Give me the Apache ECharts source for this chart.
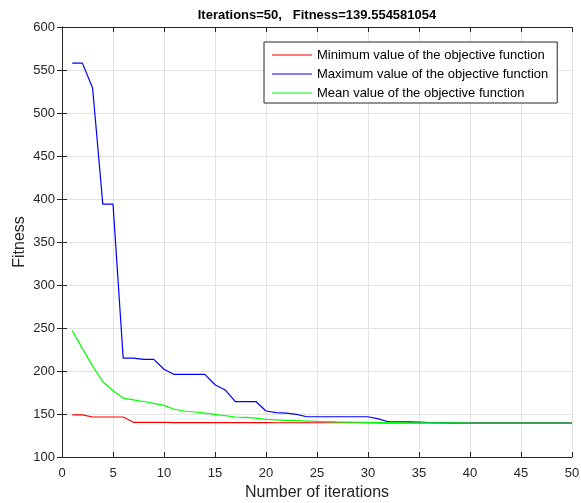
<!DOCTYPE html>
<html>
<head>
<meta charset="utf-8">
<script src="https://cdn.jsdelivr.net/npm/echarts@6/dist/echarts.min.js"></script>
<style>
  html, body { margin: 0; padding: 0; background: #fff; }
  #chart { width: 581px; height: 503px; }
</style>
</head>
<body>
<div id="chart"></div>
<script>
// iteration numbers 1..50
const iterations = [
  1, 2, 3, 4, 5, 6, 7, 8, 9, 10,
  11, 12, 13, 14, 15, 16, 17, 18, 19, 20,
  21, 22, 23, 24, 25, 26, 27, 28, 29, 30,
  31, 32, 33, 34, 35, 36, 37, 38, 39, 40,
  41, 42, 43, 44, 45, 46, 47, 48, 49, 50
];

// minimum value (red)
const minValues = [
  149, 149, 146.5, 146.5, 146.5, 146.5, 140.3, 140.3, 140.3, 140.3,
  140, 140, 140, 140, 140, 140, 140, 140, 140, 140,
  139.8, 139.8, 139.8, 139.8, 139.8, 139.8, 139.8, 139.8, 139.8, 139.8,
  139.6, 139.6, 139.6, 139.6, 139.6, 139.55, 139.55, 139.55, 139.55, 139.55,
  139.55, 139.55, 139.55, 139.55, 139.55, 139.55, 139.55, 139.55, 139.55, 139.55
];

// maximum value (blue)
const maxValues = [
  558, 558, 529, 394, 394, 215, 215, 213.5, 213.5, 202,
  196, 196, 196, 196, 184, 178, 164.5, 164.5, 164.5, 153.5,
  151.5, 151, 149.6, 146.8, 146.8, 146.8, 146.8, 146.8, 146.8, 146.8,
  144.4, 141, 141, 140.8, 140.5, 140.1, 139.9, 139.7, 139.6, 139.55,
  139.55, 139.55, 139.55, 139.55, 139.55, 139.55, 139.55, 139.55, 139.55, 139.55
];

// mean value (green)
const meanValues = [
  247, 226, 206, 187.5, 177, 168.5, 166.5, 164.5, 162.3, 160,
  155.5, 153.5, 152.3, 151, 149.6, 148, 146.5, 146, 145.2, 143.8,
  143.2, 142.6, 142.2, 141.8, 141.4, 141.1, 140.8, 140.6, 140.4, 140.2,
  140.1, 140, 139.9, 139.8, 139.75, 139.7, 139.65, 139.6, 139.58, 139.56,
  139.55, 139.55, 139.55, 139.55, 139.55, 139.55, 139.55, 139.55, 139.55, 139.55
];

const seriesNames = [
  'Minimum value of the objective function',
  'Maximum value of the objective function',
  'Mean value of the objective function'
];
const seriesColors = ['#ff0000', '#0000ff', '#00ff00'];

const xTicks = [0, 5, 10, 15, 20, 25, 30, 35, 40, 45, 50];
const yTicks = [100, 150, 200, 250, 300, 350, 400, 450, 500, 550, 600];

const pair = arr => arr.map((v, i) => [iterations[i], v]);

const font = 'Liberation Sans, Arial, sans-serif';
const axisColor = '#262626';

const mCharts = echarts.init(document.getElementById('chart'), null, { renderer: 'canvas' });

const option = {
  animation: false,
  backgroundColor: '#fff',
  title: {
    text: 'Iterations=50,   Fitness=139.554581054',
    left: 312,
    top: 4,
    textAlign: 'center',
    textStyle: { fontFamily: font, fontSize: 13, fontWeight: 'bold', color: '#000' }
  },
  grid: { left: 62, right: 9, top: 27, bottom: 46, containLabel: false, outerBoundsMode: 'none' },
  legend: {
    orient: 'vertical',
    left: 264,
    top: 42,
    padding: [6, 9, 3, 8],
    itemGap: 5,
    itemWidth: 40,
    itemHeight: 1,
    icon: 'rect',
    backgroundColor: '#fff',
    borderColor: axisColor,
    borderWidth: 1,
    textStyle: { fontFamily: font, fontSize: 13, lineHeight: 14, color: '#000' },
    data: seriesNames
  },
  xAxis: [
    {
      type: 'value',
      min: xTicks[0],
      max: xTicks[xTicks.length - 1],
      interval: 5,
      name: 'Number of iterations',
      nameLocation: 'middle',
      nameGap: 28,
      nameMoveOverlap: false,
      nameTextStyle: { fontFamily: font, fontSize: 16, color: axisColor },
      axisLine: { lineStyle: { color: axisColor, width: 1 } },
      axisTick: { inside: true, length: 5, lineStyle: { color: axisColor } },
      axisLabel: { fontFamily: font, fontSize: 13, color: axisColor, margin: 10 },
      splitLine: { show: true, lineStyle: { color: '#e3e3e3', width: 1 } }
    },
    {
      type: 'value',
      position: 'top',
      min: xTicks[0],
      max: xTicks[xTicks.length - 1],
      interval: 5,
      axisLine: { show: true, lineStyle: { color: axisColor, width: 1 } },
      axisTick: { show: true, inside: true, length: 5, lineStyle: { color: axisColor } },
      axisLabel: { show: false },
      splitLine: { show: false }
    }
  ],
  yAxis: [
    {
      type: 'value',
      min: yTicks[0],
      max: yTicks[yTicks.length - 1],
      interval: 50,
      name: 'Fitness',
      nameLocation: 'middle',
      nameGap: 34,
      nameMoveOverlap: false,
      nameTextStyle: { fontFamily: font, fontSize: 16, color: axisColor },
      axisLine: { show: true, lineStyle: { color: axisColor, width: 1 } },
      axisTick: { show: true, inside: true, length: 5, lineStyle: { color: axisColor } },
      axisLabel: { fontFamily: font, fontSize: 13, color: axisColor, margin: 7 },
      splitLine: { show: true, lineStyle: { color: '#e3e3e3', width: 1 } }
    },
    {
      type: 'value',
      position: 'right',
      min: yTicks[0],
      max: yTicks[yTicks.length - 1],
      interval: 50,
      axisLine: { show: true, lineStyle: { color: axisColor, width: 1 } },
      axisTick: { show: true, inside: true, length: 5, lineStyle: { color: axisColor } },
      axisLabel: { show: false },
      splitLine: { show: false }
    }
  ],
  series: [
    {
      name: seriesNames[0],
      type: 'line',
      data: pair(minValues),
      symbol: 'none',
      lineStyle: { color: seriesColors[0], width: 1.2 },
      itemStyle: { color: seriesColors[0] }
    },
    {
      name: seriesNames[1],
      type: 'line',
      data: pair(maxValues),
      symbol: 'none',
      lineStyle: { color: seriesColors[1], width: 1.2 },
      itemStyle: { color: seriesColors[1] }
    },
    {
      name: seriesNames[2],
      type: 'line',
      data: pair(meanValues),
      symbol: 'none',
      lineStyle: { color: seriesColors[2], width: 1.2 },
      itemStyle: { color: seriesColors[2] }
    }
  ]
};

mCharts.setOption(option);

window.addEventListener('resize', () => {
  mCharts.resize();
});
</script>
</body>
</html>
